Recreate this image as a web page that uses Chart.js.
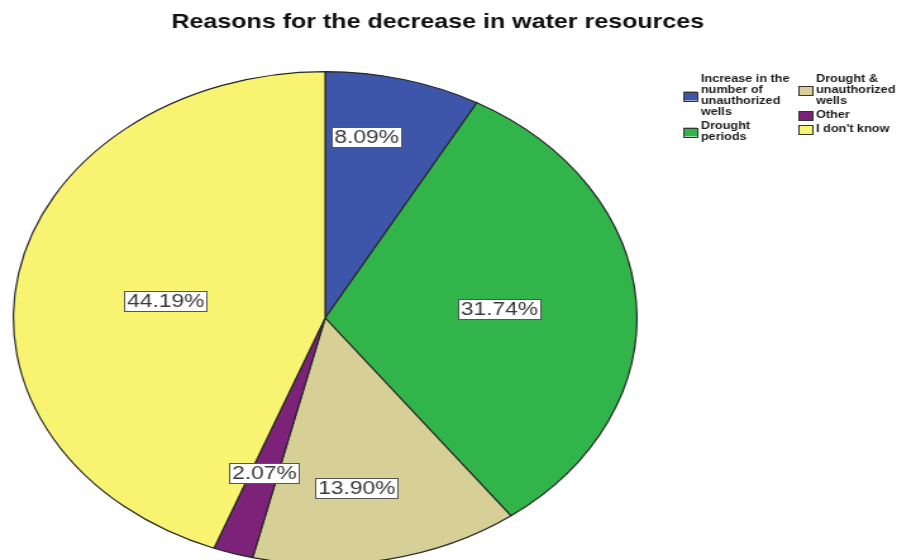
<!DOCTYPE html>
<html lang="en">

<head>
    <meta charset="UTF-8">
    <script src="https://cdn.jsdelivr.net/npm/chart.js@4.4.0/dist/chart.umd.min.js"></script>
    <title>Water resources</title>
    <style>
        html, body { margin: 0; padding: 0; background: #fff; }
        body { width: 897px; height: 560px; overflow: hidden; }
        /* the old SPSS export was stretched sideways, so the canvas is too */
        #chart1 { display: block; transform: scaleX(1.2652); transform-origin: 0 0; }
    </style>
</head>

<body>

    <canvas id="chart1" width="709" height="600"></canvas>

    <script>

        var titulo = "Reasons for the decrease in water resources";
        var razones = [
            "Increase in the number of unauthorized wells",
            "Drought periods",
            "Drought & unauthorized wells",
            "Other",
            "I don't know"
        ];
        var porcentajes = [8.09, 31.74, 13.90, 2.07, 44.19];
        var colores = ["#3d56aa", "#31b54b", "#d6d096", "#7c2379", "#f8f472"];

        var fuente = "'Liberation Sans', Arial, sans-serif";

        // where each % box sits: fraction of the radius and a small turn (degrees)
        var posEtiqueta = [0.746, 0.56, 0.697, 0.66, 0.516];
        var giroEtiqueta = [-4.3, 0, 3.2, 0, -2.7];

        function partirTexto(ctx, texto, maxAncho) {
            var palabras = texto.split(" ");
            var lineas = [];
            var actual = "";
            palabras.forEach(p => {
                var prueba = actual ? actual + " " + p : p;
                if (ctx.measureText(prueba).width > maxAncho && actual) {
                    lineas.push(actual);
                    actual = p;
                } else {
                    actual = prueba;
                }
            });
            if (actual) lineas.push(actual);
            return lineas;
        }

        var extras = {
            id: 'extras',
            afterDatasetsDraw(chart) {
                var ctx = chart.ctx;
                var meta = chart.getDatasetMeta(0);

                // value boxes
                ctx.save();
                ctx.font = "18px " + fuente;
                ctx.textAlign = "center";
                ctx.textBaseline = "middle";
                meta.data.forEach((arc, i) => {
                    var p = arc.getProps(['x', 'y', 'startAngle', 'endAngle', 'outerRadius'], true);
                    var medio = (p.startAngle + p.endAngle) / 2 + giroEtiqueta[i] * Math.PI / 180;
                    var r = p.outerRadius * posEtiqueta[i];
                    var x = p.x + Math.cos(medio) * r;
                    var y = p.y + Math.sin(medio) * r;
                    var texto = porcentajes[i].toFixed(2) + "%";
                    var w = ctx.measureText(texto).width + 4;
                    var h = 20;
                    ctx.fillStyle = "#fff";
                    ctx.fillRect(x - w / 2, y - h / 2, w, h);
                    ctx.strokeStyle = "#555";
                    ctx.lineWidth = 1;
                    ctx.strokeRect(Math.round(x - w / 2) + 0.5, Math.round(y - h / 2) + 0.5, Math.round(w), h);
                    ctx.fillStyle = "#3a3a3a";
                    ctx.fillText(texto, x, y + 1);
                });
                ctx.restore();

                // title
                ctx.save();
                ctx.font = "bold 19.8px " + fuente;
                ctx.fillStyle = "#111";
                ctx.textAlign = "center";
                ctx.textBaseline = "alphabetic";
                ctx.fillText(titulo, 346, 28);
                ctx.restore();

                // legend, two columns
                ctx.save();
                ctx.font = "bold 10px " + fuente;
                ctx.textBaseline = "middle";
                ctx.textAlign = "left";
                var columnas = [
                    { x: 540, items: [0, 1] },
                    { x: 631, items: [2, 3, 4] }
                ];
                var alto = 11;
                columnas.forEach(col => {
                    var y = 79;
                    col.items.forEach(i => {
                        var lineas = partirTexto(ctx, razones[i], 74);
                        var centro = y + (lineas.length - 1) * alto / 2;
                        ctx.fillStyle = colores[i];
                        ctx.fillRect(col.x, centro - 4, 11, 9);
                        ctx.strokeStyle = "#333";
                        ctx.lineWidth = 1;
                        ctx.strokeRect(col.x + 0.5, Math.round(centro - 4) + 0.5, 11, 9);
                        ctx.fillStyle = "#1a1a1a";
                        lineas.forEach((l, k) => ctx.fillText(l, col.x + 14, y + k * alto));
                        y += lineas.length * alto + 3;
                    });
                });
                ctx.restore();
            }
        };

        var ctx = document.getElementById('chart1').getContext('2d');
        var myChart = new Chart(ctx, {
            type: 'pie',
            data: {
                labels: razones,
                datasets: [{
                    data: porcentajes,
                    backgroundColor: colores,
                    borderColor: "#262626",
                    borderWidth: 1.2
                }]
            },
            options: {
                responsive: false,
                animation: false,
                layout: {
                    padding: { left: 10, top: 71, right: 205, bottom: 35 }
                },
                plugins: {
                    legend: { display: false },
                    title: { display: false },
                    tooltip: { enabled: false }
                }
            },
            plugins: [extras]
        });

    </script>

</body>

</html>
